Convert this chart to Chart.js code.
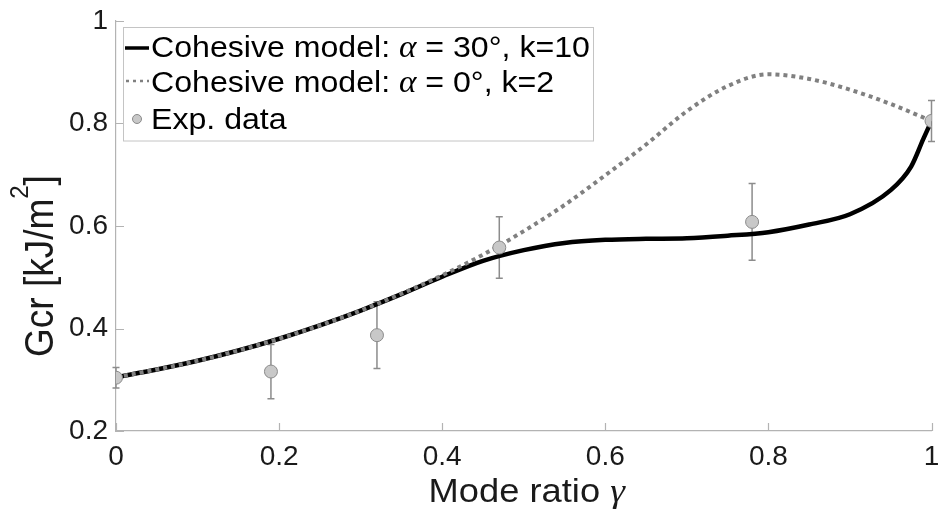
<!DOCTYPE html>
<html>
<head>
<meta charset="utf-8">
<script src="https://cdn.jsdelivr.net/npm/chart.js@4.4.1/dist/chart.umd.min.js"></script>
<style>
  body { margin: 0; background: #fff; }
  #wrap { width: 939px; height: 513px; }
</style>
</head>
<body>
<div id="wrap"><canvas id="gcrChart" width="939" height="513"></canvas></div>
<script>
// cohesive model, alpha = 30 deg, k = 10
var solidX = [0, 0.05, 0.1, 0.15, 0.2, 0.25, 0.3, 0.35, 0.4, 0.45, 0.5, 0.55, 0.6, 0.65, 0.7, 0.75, 0.8, 0.85, 0.9, 0.95, 0.975, 0.99, 1];
var solidY = [0.305, 0.320, 0.337, 0.357, 0.380, 0.406, 0.435, 0.467, 0.501, 0.532, 0.553, 0.567, 0.573, 0.575, 0.576, 0.581, 0.588, 0.603, 0.623, 0.670, 0.716, 0.770, 0.805];

// cohesive model, alpha = 0 deg, k = 2
var dottedX = [0, 0.05, 0.1, 0.15, 0.2, 0.25, 0.3, 0.35, 0.4, 0.45, 0.5, 0.55, 0.6, 0.65, 0.7, 0.75, 0.8, 0.85, 0.9, 0.95, 1];
var dottedY = [0.305, 0.320, 0.337, 0.357, 0.380, 0.406, 0.435, 0.468, 0.504, 0.544, 0.590, 0.641, 0.699, 0.759, 0.824, 0.873, 0.896, 0.887, 0.866, 0.838, 0.805];

// experiments: mean and half-width of the error bar
var expX = [0, 0.19, 0.32, 0.47, 0.78, 1];
var expY = [0.304, 0.316, 0.387, 0.558, 0.608, 0.805];
var expErr = [0.020, 0.053, 0.065, 0.060, 0.075, 0.040];

var xTicks = [0, 0.2, 0.4, 0.6, 0.8, 1];
var xTickLabels = ['0', '0.2', '0.4', '0.6', '0.8', '1'];
var yTicks = [0.2, 0.4, 0.6, 0.8, 1];
var yTickLabels = ['0.2', '0.4', '0.6', '0.8', '1'];

var SANS = '"Liberation Sans", Arial, Helvetica, sans-serif';
var SERIF = '"Liberation Serif", "DejaVu Serif", serif';
var axisColor = '#b3b3b3';
var textColor = '#1a1a1a';

function pts(xs, ys) {
  var out = [];
  for (var i = 0; i < xs.length; i++) out.push({x: xs[i], y: ys[i]});
  return out;
}

// draw a list of text runs with different fonts, one after another
function drawRuns(ctx, runs, x, y, sx) {
  ctx.save();
  ctx.translate(x, y);
  ctx.scale(sx, 1);
  ctx.textAlign = 'left';
  ctx.textBaseline = 'alphabetic';
  var cx = 0;
  runs.forEach(function(r) {
    ctx.font = r.f;
    ctx.fillText(r.t, cx, r.dy || 0);
    cx += ctx.measureText(r.t).width;
  });
  ctx.restore();
}

function runsWidth(ctx, runs) {
  var w = 0;
  runs.forEach(function(r) { ctx.font = r.f; w += ctx.measureText(r.t).width; });
  return w;
}

var errorBars = {
  id: 'errorBars',
  beforeDatasetsDraw: function(chart) {
    var ctx = chart.ctx, xs = chart.scales.x, ys = chart.scales.y;
    ctx.save();
    ctx.strokeStyle = '#8c8c8c';
    ctx.lineWidth = 1.5;
    for (var i = 0; i < expX.length; i++) {
      var px = xs.getPixelForValue(expX[i]);
      var top = ys.getPixelForValue(expY[i] + expErr[i]);
      var bot = ys.getPixelForValue(expY[i] - expErr[i]);
      ctx.beginPath();
      ctx.moveTo(px, top); ctx.lineTo(px, bot);
      ctx.moveTo(px - 3.5, top); ctx.lineTo(px + 3.5, top);
      ctx.moveTo(px - 3.5, bot); ctx.lineTo(px + 3.5, bot);
      ctx.stroke();
    }
    ctx.restore();
  }
};

var decor = {
  id: 'decor',
  afterDraw: function(chart) {
    var ctx = chart.ctx, xs = chart.scales.x, ys = chart.scales.y, a = chart.chartArea;
    ctx.save();

    // inward tick marks
    ctx.strokeStyle = axisColor;
    ctx.lineWidth = 1.2;
    ctx.beginPath();
    xs.ticks.forEach(function(t) {
      var px = Math.round(xs.getPixelForValue(t.value)) + 0.5;
      ctx.moveTo(px, a.bottom); ctx.lineTo(px, a.bottom - 8);
    });
    ys.ticks.forEach(function(t) {
      var py = Math.round(ys.getPixelForValue(t.value)) + 0.5;
      ctx.moveTo(a.left, py); ctx.lineTo(a.left + 8, py);
    });
    ctx.stroke();

    // axis titles
    ctx.fillStyle = textColor;
    var xt = [
      {t: 'Mode ratio ', f: '33px ' + SANS},
      {t: '\u03b3', f: 'italic 34px ' + SERIF}
    ];
    var w = runsWidth(ctx, xt) * 1.1;
    drawRuns(ctx, xt, (a.left + a.right) / 2 - w / 2 + 3, 502, 1.1);

    ctx.save();
    ctx.translate(53, 357);
    ctx.rotate(-Math.PI / 2);
    ctx.scale(1, 1.1);
    drawRuns(ctx, [
      {t: 'Gcr [kJ/m', f: '37px ' + SANS},
      {t: '2', f: '24px ' + SANS, dy: -23},
      {t: ']', f: '37px ' + SANS}
    ], 0, 0, 1);
    ctx.restore();

    // legend
    var lx = 123.5, ly = 27.5, lw = 470, lh = 113.5;
    ctx.fillStyle = '#ffffff';
    ctx.fillRect(lx, ly, lw, lh);
    ctx.strokeStyle = '#c4c4c4';
    ctx.lineWidth = 1;
    ctx.strokeRect(lx, ly, lw, lh);

    var rows = [46, 81, 118];
    ctx.setLineDash([]);
    ctx.strokeStyle = '#000000';
    ctx.lineWidth = 3.5;
    ctx.beginPath(); ctx.moveTo(125, rows[0] + 2); ctx.lineTo(149, rows[0] + 2); ctx.stroke();

    ctx.strokeStyle = '#808080';
    ctx.lineWidth = 2.5;
    ctx.setLineDash([3, 4]);
    ctx.beginPath(); ctx.moveTo(126, rows[1]); ctx.lineTo(149, rows[1]); ctx.stroke();
    ctx.setLineDash([]);

    ctx.fillStyle = '#c8c8c8';
    ctx.strokeStyle = '#8a8a8a';
    ctx.lineWidth = 1;
    ctx.beginPath(); ctx.arc(137, rows[2] + 1, 4.5, 0, Math.PI * 2); ctx.fill(); ctx.stroke();

    ctx.fillStyle = '#000000';
    var lf = '30px ' + SANS, af = 'italic 31px ' + SERIF;
    drawRuns(ctx, [{t: 'Cohesive model: ', f: lf}, {t: '\u03b1', f: af}, {t: ' = 30\u00b0, k=10', f: lf}], 151, rows[0] + 11, 1.07);
    drawRuns(ctx, [{t: 'Cohesive model: ', f: lf}, {t: '\u03b1', f: af}, {t: ' = 0\u00b0, k=2', f: lf}], 151, rows[1] + 11, 1.07);
    drawRuns(ctx, [{t: 'Exp. data', f: lf}], 151, rows[2] + 11, 1.07);

    ctx.restore();
  }
};

new Chart(document.getElementById('gcrChart'), {
  type: 'scatter',
  data: {
    datasets: [
      {
        label: 'Exp. data',
        data: pts(expX, expY),
        pointRadius: 6.5,
        pointBackgroundColor: '#c8c8c8',
        pointBorderColor: '#8a8a8a',
        pointBorderWidth: 1,
        order: 0
      },
      {
        label: 'Cohesive model: \u03b1 = 0\u00b0, k=2',
        data: pts(dottedX, dottedY),
        showLine: true,
        borderColor: '#808080',
        borderWidth: 4,
        borderDash: [4, 4],
        borderCapStyle: 'butt',
        pointRadius: 0,
        cubicInterpolationMode: 'monotone',
        order: 1
      },
      {
        label: 'Cohesive model: \u03b1 = 30\u00b0, k=10',
        data: pts(solidX, solidY),
        showLine: true,
        borderColor: '#000000',
        borderWidth: 4.5,
        pointRadius: 0,
        cubicInterpolationMode: 'monotone',
        order: 2
      }
    ]
  },
  options: {
    responsive: false,
    animation: false,
    events: [],
    layout: { padding: { top: 21, right: 5, left: 0, bottom: 0 } },
    plugins: { legend: { display: false }, tooltip: { enabled: false } },
    scales: {
      x: {
        type: 'linear',
        min: 0, max: 1,
        grid: { display: false, drawTicks: false },
        border: { color: axisColor, width: 1.2 },
        afterBuildTicks: function(s) { s.ticks = xTicks.map(function(v) { return {value: v}; }); },
        ticks: {
          padding: 9,
          color: textColor,
          font: { family: SANS, size: 28 },
          maxRotation: 0,
          callback: function(v, i) { return xTickLabels[i]; }
        },
        afterFit: function(s) { s.height = 82; s.paddingLeft = 0; s.paddingRight = 0; }
      },
      y: {
        type: 'linear',
        min: 0.2, max: 1,
        grid: { display: false, drawTicks: false },
        border: { color: axisColor, width: 1.2 },
        afterBuildTicks: function(s) { s.ticks = yTicks.map(function(v) { return {value: v}; }); },
        ticks: {
          padding: 8,
          color: textColor,
          font: { family: SANS, size: 28 },
          callback: function(v, i) { return yTickLabels[i]; }
        },
        afterFit: function(s) { s.width = 116; s.paddingTop = 0; s.paddingBottom = 0; }
      }
    }
  },
  plugins: [errorBars, decor]
});
</script>
</body>
</html>
